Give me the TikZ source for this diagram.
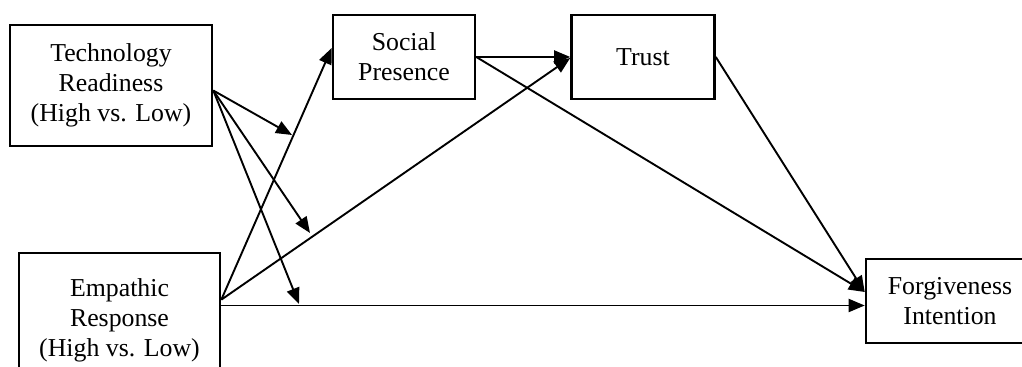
\documentclass[tikz,border=0pt]{standalone}
\usepackage{fontspec}
\setmainfont{Liberation Serif}
\usetikzlibrary{arrows.meta,calc}
\begin{document}
\begin{tikzpicture}[x=0.5pt,y=-0.5pt,
  box/.style={draw, line width=1.3pt, align=center, inner sep=0pt,
    font=\fontsize{12.9pt}{15pt}\selectfont},
  arr/.style={line width=0.95pt, -{Triangle[length=8pt,width=6.5pt]}}]
\useasboundingbox (0,0) rectangle (1022,367);
\clip (0,0) rectangle (1022,367);
\node[box, minimum width=101pt, minimum height=60.5pt] (TR) at (111,85.5)
  {Technology\\Readiness\\(High vs. Low)};
\node[box, minimum width=100.5pt, minimum height=67pt] (ER) at (119.5,320)
  {Empathic\\Response\\(High vs. Low)};
\node[box, minimum width=71pt, minimum height=42pt] (SP) at (404,57)
  {Social\\Presence};
\node[box, minimum width=71.5pt, minimum height=42pt] (TU) at (643,57)
  {Trust};
\node[box, minimum width=84pt, minimum height=42pt] (FI) at (950,301)
  {Forgiveness\\Intention};
% anchor points
\coordinate (trs) at ($(TR.east)+(0,5)$);
\coordinate (ers) at ($(ER.north east)+(0,48)$);
\coordinate (spin) at ($(SP.west)+(0,-9)$);
\coordinate (tuin) at ($(TU.west)+(0,1)$);
\coordinate (fiA) at ($(FI.west)+(0,4.5)$);
\coordinate (fiB) at ($(FI.west)+(0,-9)$);
\coordinate (m1) at (292,135);
\coordinate (m2) at (310,233);
\coordinate (m3) at (299,304);
% paths
\draw[arr] (ers) -- (spin);
\draw[arr] (ers) -- (tuin);
\draw[arr] (ER.east |- fiA) -- (fiA);
\draw[arr] (SP.east) -- (TU.west);
\draw[arr] (SP.east) -- (fiB);
\draw[arr] (TU.east) -- (fiB);
\draw[arr] (trs) -- (m1);
\draw[arr] (trs) -- (m2);
\draw[arr] (trs) -- (m3);
\end{tikzpicture}
\end{document}
